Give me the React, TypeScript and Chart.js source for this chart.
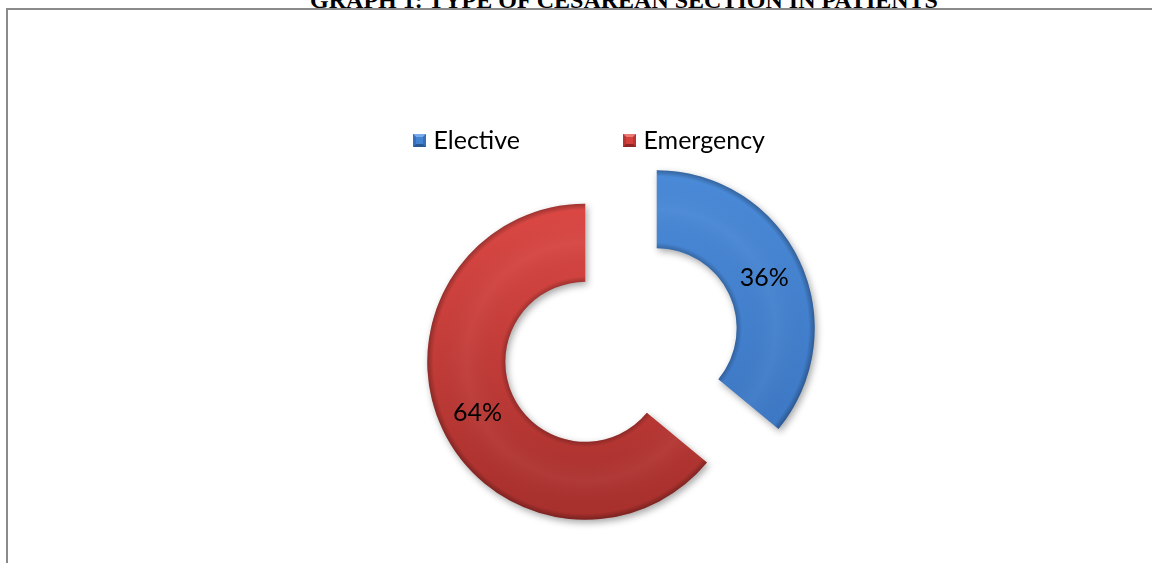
import React, { useEffect, useRef } from "react";
import { Chart, registerables } from "chart.js";

Chart.register(...registerables);

const titleText = "GRAPH 1: TYPE OF CESAREAN SECTION IN PATIENTS";
const categories = ["Elective", "Emergency"];
const values = [36, 64];
const baseColors = ["#4383d1", "#d4403c"];
const lightColors = ["#4a8ad8", "#dc4844"];
const darkColors = ["#3a74c0", "#a62f2c"];
const bevelLight = ["#79aaea", "#ea7a75"];
const bevelSide = ["#3770b9", "#b83733"];
const bevelDark = ["#285994", "#8f2624"];
const EXPLODE = 0.25;
const FONT = "Lato, 'Noto Sans', sans-serif";

function makeLegendBox(i: number): HTMLCanvasElement {
  const s = 13;
  const c = document.createElement("canvas");
  c.width = s;
  c.height = s;
  const g = c.getContext("2d") as CanvasRenderingContext2D;
  g.fillStyle = baseColors[i];
  g.fillRect(0, 0, s, s);
  const poly = (pts: number[][], col: string) => {
    g.beginPath();
    g.moveTo(pts[0][0], pts[0][1]);
    for (let k = 1; k < pts.length; k++) g.lineTo(pts[k][0], pts[k][1]);
    g.closePath();
    g.fillStyle = col;
    g.fill();
  };
  const b = 3;
  poly([[0, 0], [s, 0], [s - b, b], [b, b]], bevelLight[i]);
  poly([[0, 0], [b, b], [b, s - b], [0, s]], bevelSide[i]);
  poly([[s, 0], [s, s], [s - b, s - b], [s - b, b]], bevelSide[i]);
  poly([[0, s], [b, s - b], [s - b, s - b], [s, s]], bevelDark[i]);
  return c;
}

const explodePlugin = {
  id: "explodeSlices",
  afterDatasetsUpdate(chart: any) {
    const meta = chart.getDatasetMeta(0);
    meta.data.forEach((el: any) => {
      const mid = (el.startAngle + el.endAngle) / 2;
      const d = el.outerRadius * EXPLODE;
      el.x += Math.cos(mid) * d;
      el.y += Math.sin(mid) * d;
    });
  },
  beforeDatasetsDraw(chart: any) {
    const ctx = chart.ctx;
    const meta = chart.getDatasetMeta(0);
    meta.data.forEach((el: any, i: number) => {
      const g = ctx.createLinearGradient(0, el.y - el.outerRadius, 0, el.y + el.outerRadius);
      g.addColorStop(0, lightColors[i]);
      g.addColorStop(1, darkColors[i]);
      el.options = Object.assign({}, el.options, { backgroundColor: g });
    });
    ctx.save();
    ctx.shadowColor = "rgba(0,0,0,0.35)";
    ctx.shadowBlur = 7;
    ctx.shadowOffsetX = 2;
    ctx.shadowOffsetY = 3;
  },
  afterDatasetsDraw(chart: any) {
    const ctx = chart.ctx;
    ctx.restore();
    const meta = chart.getDatasetMeta(0);
    meta.data.forEach((el: any) => {
      const { x, y, startAngle, endAngle, innerRadius, outerRadius } = el;
      const g = ctx.createRadialGradient(x, y, innerRadius, x, y, outerRadius);
      g.addColorStop(0, "rgba(0,0,0,0.22)");
      g.addColorStop(0.07, "rgba(0,0,0,0)");
      g.addColorStop(0.5, "rgba(255,255,255,0.04)");
      g.addColorStop(0.92, "rgba(0,0,0,0)");
      g.addColorStop(1, "rgba(0,0,0,0.28)");
      ctx.save();
      ctx.beginPath();
      ctx.arc(x, y, outerRadius, startAngle, endAngle);
      ctx.arc(x, y, innerRadius, endAngle, startAngle, true);
      ctx.closePath();
      ctx.fillStyle = g;
      ctx.fill();
      ctx.restore();
    });
    const total = values.reduce((a, b) => a + b, 0);
    ctx.save();
    ctx.fillStyle = "#000";
    ctx.font = `25px ${FONT}`;
    ctx.textAlign = "center";
    ctx.textBaseline = "middle";
    meta.data.forEach((el: any, i: number) => {
      const p = el.tooltipPosition();
      ctx.fillText(Math.round((values[i] / total) * 100) + "%", p.x, p.y);
    });
    ctx.restore();
  },
};

export default function App() {
  const ref = useRef<HTMLCanvasElement | null>(null);

  useEffect(() => {
    if (!ref.current) return;
    const boxes = categories.map((_, i) => makeLegendBox(i));
    const defaultGen = (Chart as any).overrides.doughnut.plugins.legend.labels.generateLabels;
    const chart = new Chart(ref.current, {
      type: "doughnut",
      data: {
        labels: categories,
        datasets: [
          {
            data: values,
            backgroundColor: baseColors,
            borderWidth: 0,
          },
        ],
      },
      options: {
        responsive: false,
        animation: false,
        rotation: 0,
        radius: 158,
        cutout: "50.6%",
        layout: { padding: { left: 310, right: 220, top: 20, bottom: 36 } },
        plugins: {
          legend: {
            display: true,
            position: "top",
            align: "start",
            labels: {
              usePointStyle: true,
              boxWidth: 3,
              boxHeight: 13,
              padding: 108,
              color: "#000",
              font: { family: FONT, size: 25 },
              generateLabels: (c: any) =>
                defaultGen(c).map((it: any, i: number) => ({ ...it, pointStyle: boxes[i] })),
            },
          },
          tooltip: { enabled: false },
          title: { display: false },
        },
      } as any,
      plugins: [explodePlugin],
    });
    return () => chart.destroy();
  }, []);

  return (
    <div
      style={{
        position: "fixed",
        left: 0,
        top: 0,
        width: 1152,
        height: 563,
        overflow: "hidden",
        background: "#fff",
      }}
    >
      <div
        style={{
          position: "absolute",
          left: 6,
          top: 8,
          width: 1300,
          height: 700,
          borderLeft: "2px solid #8a8a8a",
          borderTop: "2px solid #8a8a8a",
          boxSizing: "border-box",
        }}
      />
      <div
        style={{
          position: "absolute",
          left: 0,
          top: -12,
          width: 1248,
          textAlign: "center",
          fontFamily: "'Liberation Serif', 'Times New Roman', serif",
          fontWeight: "bold",
          fontSize: 24,
          lineHeight: "24px",
          whiteSpace: "nowrap",
          color: "#000",
        }}
      >
        {titleText}
      </div>
      <canvas
        ref={ref}
        width={1152}
        height={563}
        style={{ position: "absolute", left: 0, top: 0, width: 1152, height: 563 }}
      />
    </div>
  );
}
